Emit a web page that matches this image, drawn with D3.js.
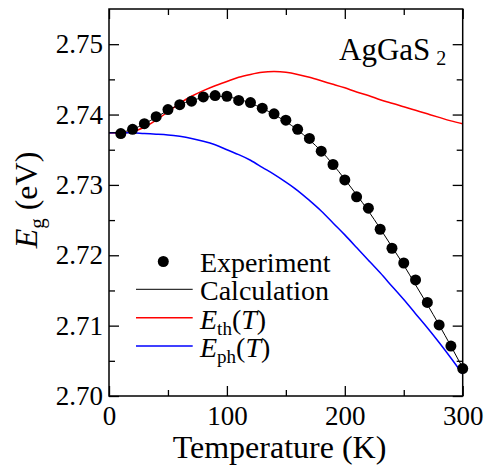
<!DOCTYPE html>
<html><head><meta charset="utf-8">
<script src="https://cdn.jsdelivr.net/npm/d3@7"></script>
<style>body{margin:0;background:#fff}svg{display:block}svg text{font-family:"Liberation Serif","Times New Roman",Times,"DejaVu Serif",serif !important;fill:#000}</style>
</head><body><svg id="c" width="492" height="468"></svg>
<script>
const expT = [10,20,30,40,50,60,70,80,90,100,110,120,130,140,150,160,170,180,190,200,210,220,230,240,250,260,270,280,290,300];
const expE = [2.7373,2.7379,2.7387,2.7397,2.7407,2.7414,2.7419,2.7425,2.7427,2.7426,2.7420,2.7417,2.7409,2.7401,2.7392,2.7379,2.7366,2.7348,2.7329,2.7307,2.7283,2.7267,2.7237,2.7210,2.7189,2.7165,2.7133,2.7101,2.7071,2.7039];
const curveT = [0,10,20,30,40,50,60,70,80,90,100,110,120,130,140,150,160,170,180,190,200,210,220,230,240,250,260,270,280,290,300];
const calcE = [2.7374,2.7375,2.7379,2.7387,2.7396,2.7406,2.7414,2.7420,2.7424,2.7426,2.7425,2.7422,2.7416,2.7409,2.7400,2.7390,2.7378,2.7364,2.7348,2.7329,2.7308,2.7286,2.7263,2.7238,2.7212,2.7186,2.7158,2.7130,2.7101,2.7071,2.7040];
const thE = [2.7374,2.7374,2.7376,2.7382,2.7392,2.7404,2.7416,2.7426,2.7434,2.7441,2.7447,2.7453,2.7457,2.7460,2.7461,2.7460,2.7457,2.7453,2.7448,2.7443,2.7438,2.7432,2.7427,2.7421,2.7416,2.7411,2.7406,2.7401,2.7396,2.7391,2.7387];
const phE = [2.7374,2.7374,2.7374,2.7373,2.7372,2.7371,2.7369,2.7366,2.7362,2.7357,2.7350,2.7343,2.7335,2.7325,2.7315,2.7304,2.7292,2.7278,2.7263,2.7246,2.7229,2.7211,2.7193,2.7175,2.7156,2.7137,2.7117,2.7097,2.7076,2.7054,2.7031];
const xMajor = [0,100,200,300];
const xMinor = [50,150,250];
const yMajor = [2.70,2.71,2.72,2.73,2.74,2.75];
const yMinor = [2.705,2.715,2.725,2.735,2.745];

const svg = d3.select("#c");
const L=109, R=462.7, T=9, B=396;
const x = d3.scaleLinear().domain([0,300]).range([L,R]);
const y = d3.scaleLinear().domain([2.70,2.755]).range([B,T]);

const line = (arr) => d3.line().x((d,i)=>x(curveT[i])).y(d=>y(d)).curve(d3.curveNatural)(arr);

svg.append("path").attr("d", line(thE)).attr("fill","none").attr("stroke","#ff0000").attr("stroke-width",1.5);
svg.append("path").attr("d", line(phE)).attr("fill","none").attr("stroke","#0000ff").attr("stroke-width",1.5);
svg.append("path").attr("d", line(calcE)).attr("fill","none").attr("stroke","#000").attr("stroke-width",1);
svg.selectAll("circle.pt").data(expT).join("circle").attr("class","pt")
  .attr("cx",d=>x(d)).attr("cy",(d,i)=>y(expE[i])).attr("r",5.5).attr("fill","#000");

// axes
const SERIF = '"Liberation Serif","Times New Roman",Times,"DejaVu Serif",serif';
function styleAxis(g){ g.attr("font-family",SERIF); g.select(".domain").remove(); g.selectAll("line").attr("stroke","#000").attr("stroke-width",1.3); }
const fs = "27px";
svg.append("g").attr("transform",`translate(0,${B})`)
  .call(d3.axisBottom(x).tickValues(xMajor).tickSize(-10).tickPadding(9.5).tickFormat(d3.format("d")))
  .call(styleAxis).selectAll("text").style("font-size",fs);
svg.append("g").attr("transform",`translate(0,${B})`)
  .call(d3.axisBottom(x).tickValues(xMinor).tickSize(-6).tickFormat("")).call(styleAxis);
svg.append("g").attr("transform",`translate(0,${T})`)
  .call(d3.axisTop(x).tickValues(xMajor).tickSize(-10).tickFormat("")).call(styleAxis);
svg.append("g").attr("transform",`translate(0,${T})`)
  .call(d3.axisTop(x).tickValues(xMinor).tickSize(-6).tickFormat("")).call(styleAxis);
svg.append("g").attr("transform",`translate(${L},0)`)
  .call(d3.axisLeft(y).tickValues(yMajor).tickSize(-10).tickPadding(6).tickFormat(d3.format(".2f")))
  .call(styleAxis).selectAll("text").style("font-size",fs);
svg.append("g").attr("transform",`translate(${L},0)`)
  .call(d3.axisLeft(y).tickValues(yMinor).tickSize(-6).tickFormat("")).call(styleAxis);
svg.append("g").attr("transform",`translate(${R},0)`)
  .call(d3.axisRight(y).tickValues(yMajor).tickSize(-10).tickFormat("")).call(styleAxis);
svg.append("g").attr("transform",`translate(${R},0)`)
  .call(d3.axisRight(y).tickValues(yMinor).tickSize(-6).tickFormat("")).call(styleAxis);
svg.append("rect").attr("x",L).attr("y",T).attr("width",R-L).attr("height",B-T)
  .attr("fill","none").attr("stroke","#000").attr("stroke-width",1.5);

// titles
svg.append("text").attr("x",279.5).attr("y",458).attr("text-anchor","middle").style("font-size","32px").text("Temperature (K)");
const yt = svg.append("text").attr("transform","translate(37,200) rotate(-90)").attr("text-anchor","middle").style("font-size","32px");
yt.append("tspan").style("font-style","italic").text("E");
yt.append("tspan").attr("dy",7).style("font-size","21px").text("g");
yt.append("tspan").attr("dy",-7).text(" (eV)");

const lab = svg.append("text").attr("x",339).attr("y",60).style("font-size","31px");
lab.append("tspan").text("AgGaS");
lab.append("tspan").attr("dx",6).attr("dy",5).style("font-size","20px").text("2");

// legend
const lx0=136, lx1=192.7, tx=200, rows=[261.5,289.3,317.7,346];
const lfs="28px";
svg.append("circle").attr("cx",163.3).attr("cy",rows[0]).attr("r",5.5).attr("fill","#000");
svg.append("text").attr("x",tx).attr("y",rows[0]+10.3).style("font-size",lfs).text("Experiment");
const legLines=[["#000",1],["#ff0000",1.5],["#0000ff",1.5]];
legLines.forEach((c,i)=>svg.append("line").attr("x1",lx0).attr("x2",lx1).attr("y1",rows[i+1]).attr("y2",rows[i+1]).attr("stroke",c[0]).attr("stroke-width",c[1]));
svg.append("text").attr("x",tx).attr("y",rows[1]+11).style("font-size",lfs).text("Calculation");
[["th",rows[2]],["ph",rows[3]]].forEach(([s,ry])=>{
  const t=svg.append("text").attr("x",tx).attr("y",ry+11).style("font-size",lfs);
  t.append("tspan").style("font-style","italic").text("E");
  t.append("tspan").attr("dy",6).style("font-size","19px").text(s);
  t.append("tspan").attr("dy",-6).text("(");
  t.append("tspan").style("font-style","italic").text("T");
  t.append("tspan").text(")");
});
</script></body></html>
